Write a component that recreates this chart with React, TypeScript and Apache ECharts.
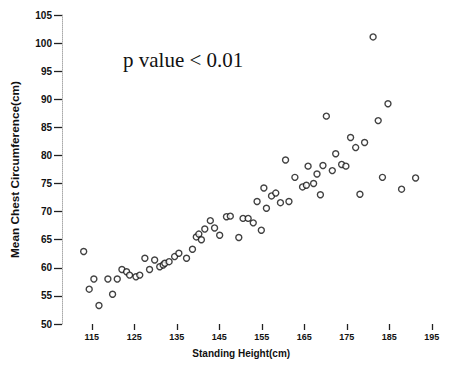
import React, { useEffect, useRef } from "react";
import * as echarts from "echarts";

const heights: number[] = [
  113.1, 114.4, 115.5, 116.7, 118.8, 119.9, 121.0, 122.1, 123.2, 123.9,
  125.4, 126.3, 127.5, 128.6, 129.8, 131.0, 131.8, 132.2, 133.2, 134.5,
  135.5, 137.3, 138.7, 139.6, 140.2, 140.8, 141.6, 142.9, 143.9, 145.1,
  146.7, 147.6, 149.6, 150.6, 151.8, 153.0, 154.9, 153.9, 155.5, 156.1,
  157.3, 158.3, 159.4, 161.4, 160.6, 162.8, 164.6, 165.5, 167.2, 165.9,
  168.0, 168.8, 169.4, 170.2, 171.6, 172.4, 173.8, 174.8, 175.9, 177.1,
  178.1, 179.2, 181.2, 182.4, 183.4, 184.7, 187.9, 191.2,
];
const chest: number[] = [
  62.9, 56.2, 58.0, 53.3, 58.0, 55.3, 58.0, 59.7, 59.3, 58.7,
  58.4, 58.7, 61.7, 59.7, 61.4, 60.2, 60.5, 60.8, 61.1, 62.0,
  62.6, 61.7, 63.3, 65.5, 66.0, 65.0, 66.9, 68.4, 67.1, 65.8,
  69.1, 69.2, 65.4, 68.8, 68.8, 68.0, 66.7, 71.8, 74.2, 70.6,
  72.8, 73.3, 71.6, 71.8, 79.2, 76.1, 74.4, 74.7, 75.0, 78.1,
  76.7, 73.0, 78.2, 87.0, 77.3, 80.3, 78.4, 78.1, 83.2, 81.4,
  73.1, 82.3, 101.1, 86.2, 76.1, 89.2, 74.0, 76.0,
];
const xTickValues: number[] = [115, 125, 135, 145, 155, 165, 175, 185, 195];
const yTickValues: number[] = [50, 55, 60, 65, 70, 75, 80, 85, 90, 95, 100, 105];
const annotation = "p value < 0.01";
const xName = "Standing Height(cm)";
const yName = "Mean Chest Circumference(cm)";

export default function App() {
  const ref = useRef<HTMLDivElement>(null);
  useEffect(() => {
    if (!ref.current) return;
    const chart = echarts.init(ref.current, undefined, { renderer: "svg" });
    const data = heights.map((h, i) => [h, chest[i]]);
    chart.setOption({
      animation: false,
      backgroundColor: "#ffffff",
      grid: { left: 62, right: 21.5, top: 15, bottom: 46, containLabel: false },
      xAxis: {
        type: "value",
        min: 108,
        max: 198,
        name: xName,
        nameLocation: "middle",
        nameGap: 24,
        nameTextStyle: {
          fontFamily: "Liberation Sans",
          fontWeight: "bold",
          fontSize: 10,
          color: "#111",
          padding: [0, 24, 0, 0],
        },
        axisLine: { show: false },
        axisTick: {
          show: true,
          length: 6,
          customValues: xTickValues,
          lineStyle: { color: "#222", width: 1.3 },
        },
        axisLabel: {
          customValues: xTickValues,
          margin: 8,
          fontFamily: "Liberation Sans",
          fontWeight: "bold",
          fontSize: 9,
          color: "#111",
        },
        splitLine: { show: false },
      },
      yAxis: {
        type: "value",
        min: 50,
        max: 105,
        name: yName,
        nameLocation: "middle",
        nameGap: 41,
        nameTextStyle: {
          fontFamily: "Liberation Sans",
          fontWeight: "bold",
          fontSize: 11.8,
          color: "#111",
        },
        axisLine: {
          show: true,
          lineStyle: { color: "#aaa", type: "dotted", width: 1 },
        },
        axisTick: {
          show: true,
          length: 8,
          customValues: yTickValues,
          lineStyle: { color: "#222", width: 1.3 },
        },
        axisLabel: {
          customValues: yTickValues,
          margin: 10,
          fontFamily: "Liberation Sans",
          fontWeight: "bold",
          fontSize: 10,
          color: "#111",
        },
        splitLine: { show: false },
      },
      graphic: [
        {
          type: "text",
          left: 123,
          top: 49,
          style: {
            text: annotation,
            fontFamily: "Liberation Serif",
            fontSize: 21,
            fill: "#111",
          },
        },
      ],
      series: [
        {
          type: "scatter",
          data,
          symbol: "circle",
          symbolSize: 6,
          itemStyle: { color: "#ffffff", borderColor: "#111", borderWidth: 1.4 },
        },
      ],
    });
    return () => chart.dispose();
  }, []);
  return (
    <div
      ref={ref}
      style={{ position: "fixed", left: 0, top: 0, width: 466, height: 370 }}
    />
  );
}
